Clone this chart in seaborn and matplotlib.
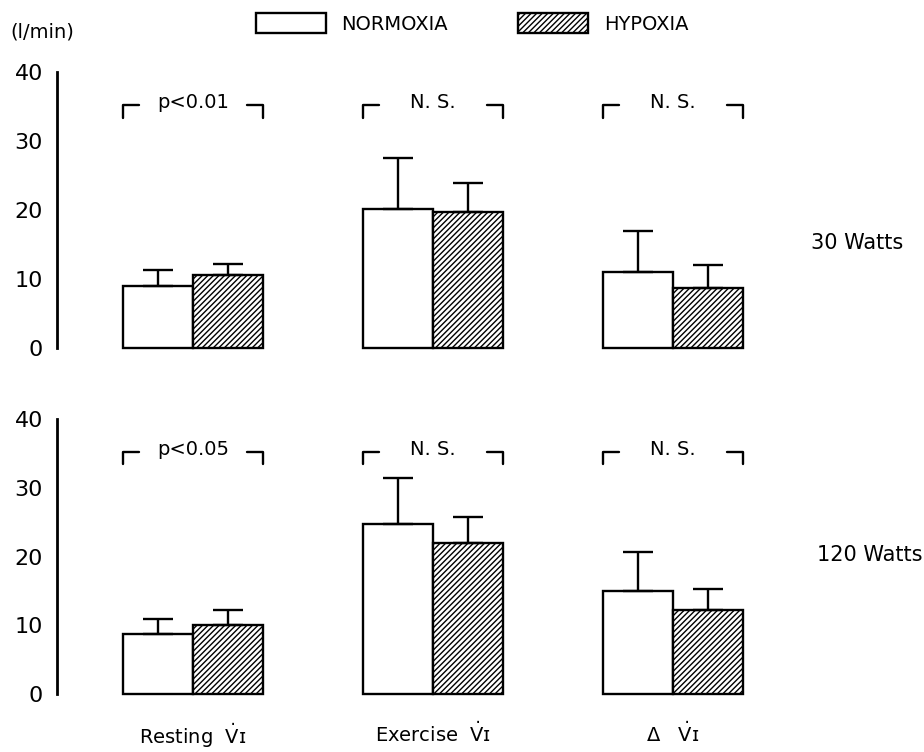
import numpy as np
import pandas as pd
import matplotlib
matplotlib.use("Agg")
import matplotlib.pyplot as plt
from matplotlib.patches import Patch
import seaborn as sns

# groups, conditions and panels
measures = ["Resting", "Exercise", "Delta"]
measure_labels = [r"Resting  $\dot{\mathrm{V}}$ɪ",
                  r"Exercise  $\dot{\mathrm{V}}$ɪ",
                  r"$\Delta$   $\dot{\mathrm{V}}$ɪ"]
conditions = ["NORMOXIA", "HYPOXIA"]
panels = ["30 Watts", "120 Watts"]

# mean values (l/min) and upper SD
normoxia_30 = [9.0, 20.1, 11.0]
hypoxia_30 = [10.6, 19.7, 8.7]
normoxia_30_sd = [2.3, 7.4, 6.0]
hypoxia_30_sd = [1.6, 4.2, 3.3]

normoxia_120 = [8.7, 24.8, 15.0]
hypoxia_120 = [10.0, 22.0, 12.2]
normoxia_120_sd = [2.2, 6.6, 5.7]
hypoxia_120_sd = [2.2, 3.7, 3.1]

signif_30 = ["p<0.01", "N. S.", "N. S."]
signif_120 = ["p<0.05", "N. S.", "N. S."]
yticks = [0, 10, 20, 30, 40]

rows = []
for panel, n, h, nsd, hsd in [("30 Watts", normoxia_30, hypoxia_30, normoxia_30_sd, hypoxia_30_sd),
                              ("120 Watts", normoxia_120, hypoxia_120, normoxia_120_sd, hypoxia_120_sd)]:
    for i, m in enumerate(measures):
        rows.append(dict(panel=panel, measure=m, condition="NORMOXIA", value=n[i], sd=nsd[i]))
        rows.append(dict(panel=panel, measure=m, condition="HYPOXIA", value=h[i], sd=hsd[i]))
df = pd.DataFrame(rows)

sns.set_style("white")
plt.rcParams["font.family"] = ["DejaVu Sans"]
plt.rcParams["text.color"] = "black"
plt.rcParams["hatch.linewidth"] = 1.0
plt.rcParams["mathtext.default"] = "regular"

fig = plt.figure(figsize=(9.24, 7.52), dpi=100)
ax_top = fig.add_axes([0.0617, 0.5372, 0.7706, 0.3670])
ax_bot = fig.add_axes([0.0617, 0.0771, 0.7706, 0.3657])

lw = 1.7
for ax, panel, signif in [(ax_top, "30 Watts", signif_30), (ax_bot, "120 Watts", signif_120)]:
    d = df[df.panel == panel]
    sns.barplot(data=d, x="measure", y="value", hue="condition", order=measures,
                hue_order=conditions, palette=["white", "white"], edgecolor="black",
                linewidth=lw, width=0.583, gap=0, errorbar=None, legend=False, ax=ax)
    for bar in ax.containers[1]:
        bar.set_hatch("//////")
    for p in ax.patches:
        p.set_clip_on(False)

    # one-sided error bars (upper SD only)
    for cont, cond in zip(ax.containers, conditions):
        xs = [b.get_x() + b.get_width() / 2 for b in cont]
        ys = [b.get_height() for b in cont]
        sd = d[d.condition == cond].set_index("measure").loc[measures, "sd"].values
        ax.errorbar(xs, ys, yerr=[np.zeros(len(sd)), sd], fmt="none", ecolor="black",
                    elinewidth=lw, capsize=11, capthick=lw, clip_on=False)

    # significance brackets
    by, dh, dw = 35.2, 1.8, 0.065
    for i, txt in enumerate(signif):
        x0, x1 = i - 0.29, i + 0.29
        ax.plot([x0, x0, x0 + dw], [by - dh, by, by], color="black", lw=lw, clip_on=False)
        ax.plot([x1 - dw, x1, x1], [by, by, by - dh], color="black", lw=lw, clip_on=False)
        ax.text(i, by + 0.4, txt, ha="center", va="center", fontsize=14)

    ax.set_xlim(-0.567, 2.4)
    ax.set_ylim(0, 40)
    ax.set_yticks(yticks)
    ax.set_xlabel("")
    ax.set_ylabel("")
    for s in ["top", "right", "bottom"]:
        ax.spines[s].set_visible(False)
    ax.spines["left"].set_linewidth(2.0)
    ax.spines["left"].set_color("black")
    ax.tick_params(axis="y", direction="in", length=11, width=1.8, labelsize=16, pad=10,
                   colors="black", labelcolor="black")
    ax.patch.set_alpha(0)

ax_top.set_xticks([])
ax_bot.set_xticks(range(len(measures)))
ax_bot.set_xticklabels(measure_labels, fontsize=14, color="black")
ax_bot.tick_params(axis="x", length=0, pad=20)

fig.text(0.011, 0.957, "(l/min)", fontsize=14, ha="left", va="center")
fig.text(0.928, 0.677, "30 Watts", fontsize=15, ha="center", va="center")
fig.text(0.998, 0.262, "120 Watts", fontsize=15, ha="right", va="center")

handles = [Patch(facecolor="white", edgecolor="black", lw=lw),
           Patch(facecolor="white", edgecolor="black", lw=lw, hatch="//////")]
fig.legend(handles, conditions, loc="center", bbox_to_anchor=(0.511, 0.969), ncol=2,
           frameon=False, handlelength=3.6, handleheight=1.2, handletextpad=0.8,
           columnspacing=3.6, fontsize=14)

fig.savefig("out.png", dpi=100)
